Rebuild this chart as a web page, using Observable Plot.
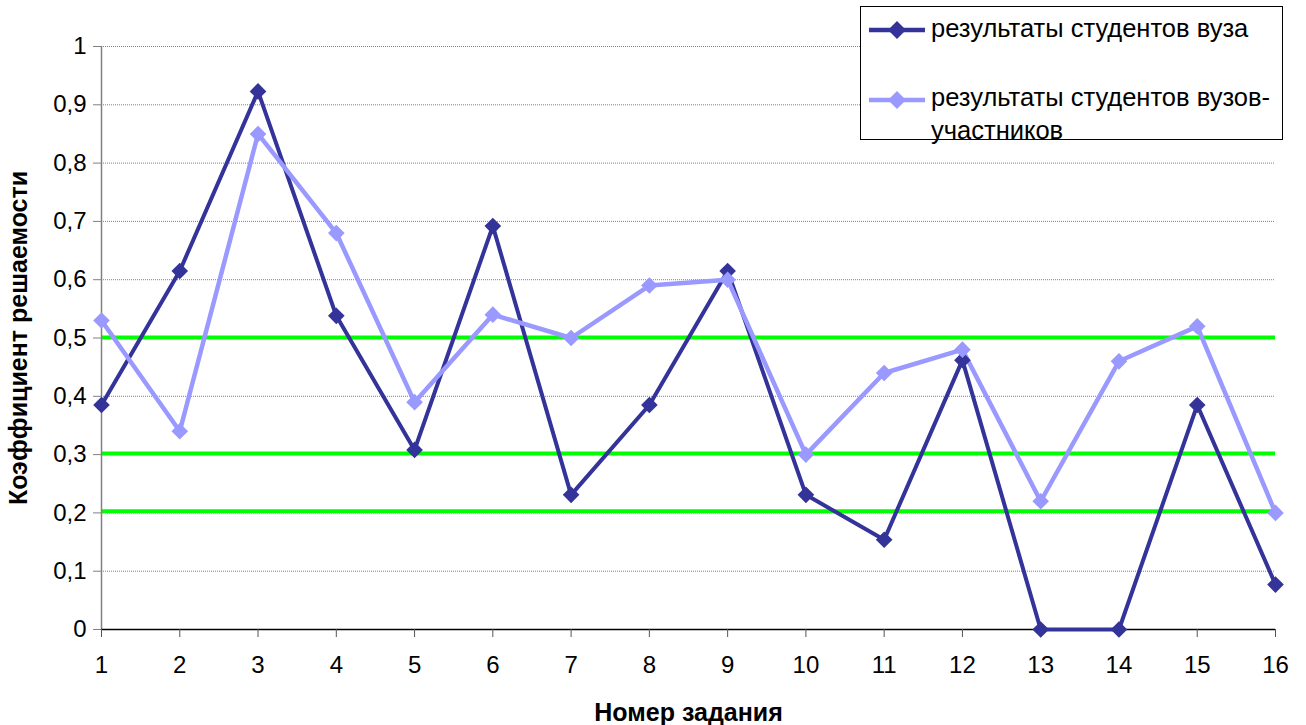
<!DOCTYPE html>
<html><head><meta charset="utf-8">
<script src="https://cdn.jsdelivr.net/npm/d3@7"></script>
<script src="https://cdn.jsdelivr.net/npm/@observablehq/plot@0.6"></script>
<style>
body{margin:0;background:#fff;font-family:"Liberation Sans",Arial,sans-serif;}
#wrap{position:relative;width:1306px;height:725px;overflow:hidden;}
#legend{position:absolute;left:860px;top:6px;width:421px;height:132px;border:1px solid #000;background:#fff;font-size:25.5px;color:#000;}
.lbl{position:absolute;left:70px;line-height:33px;white-space:nowrap;}
.sw{position:absolute;left:8px;}
</style></head>
<body><div id="wrap"></div>
<script>
const tasks = [1,2,3,4,5,6,7,8,9,10,11,12,13,14,15,16];
const uni = [0.385,0.615,0.923,0.538,0.308,0.692,0.231,0.385,0.615,0.231,0.154,0.462,0,0,0.385,0.077];
const participants = [0.53,0.34,0.85,0.68,0.39,0.54,0.50,0.59,0.60,0.30,0.44,0.48,0.22,0.46,0.52,0.20];
const yTicks = [0,0.1,0.2,0.3,0.4,0.5,0.6,0.7,0.8,0.9,1];
const greenLevels = [0.501,0.302,0.203];
const seriesNames = ["результаты студентов вуза","результаты студентов вузов-участников"];
const seriesColors = ["#333399","#9999FF"];
const xTitle = "Номер задания";
const yTitle = "Коэффициент решаемости";

const d1 = tasks.map((t,i)=>({t, v: uni[i]}));
const d2 = tasks.map((t,i)=>({t, v: participants[i]}));
const fmt = d => String(d).replace(".", ",");

const chart = Plot.plot({
  width: 1306, height: 725,
  marginLeft: 101, marginRight: 31, marginTop: 46, marginBottom: 96,
  style: {fontFamily: '"Liberation Sans", Arial, sans-serif', fontSize: "24px", color: "#000", background: "#fff"},
  x: {type: "linear", domain: [1,16]},
  y: {domain: [0,1]},
  marks: [
    Plot.ruleY(yTicks.filter(d=>d>0), {stroke: "#808080", strokeWidth: 1, strokeDasharray: "1,1"}),
    Plot.ruleY(greenLevels, {stroke: "#00FF00", strokeWidth: 4}),
    Plot.ruleX([1], {stroke: "#808080", strokeWidth: 1.5}),
    Plot.ruleY([0], {stroke: "#000", strokeWidth: 1.5}),
    Plot.axisY({ticks: yTicks, tickFormat: () => "", tickSize: 8, label: null, stroke: "#808080"}),
    Plot.axisX({ticks: tasks, tickFormat: () => "", tickSize: 8, label: null, stroke: "#555"}),
    Plot.text(yTicks, {x: () => 1, y: d => d, text: fmt, textAnchor: "end", lineAnchor: "middle", dx: -15, fontSize: 24, fill: "#000"}),
    Plot.text(tasks, {x: d => d, y: () => 0, text: d => String(d), textAnchor: "middle", lineAnchor: "middle", dy: 36, fontSize: 24, fill: "#000"}),
    Plot.line(d1, {x: "t", y: "v", stroke: seriesColors[0], strokeWidth: 4}),
    Plot.line(d2, {x: "t", y: "v", stroke: seriesColors[1], strokeWidth: 4.5}),
    Plot.dot(d1, {x: "t", y: "v", fill: seriesColors[0], symbol: "diamond2", r: 7.5}),
    Plot.dot(d2, {x: "t", y: "v", fill: seriesColors[1], symbol: "diamond2", r: 7.5}),
    Plot.text([yTitle], {text: d=>d, frameAnchor: "left", dx: -83, rotate: -90, textAnchor: "middle", lineAnchor: "middle", fontWeight: "bold", fontSize: 25, fill: "#000"}),
    Plot.text([xTitle], {text: d=>d, frameAnchor: "bottom", dy: 83, textAnchor: "middle", lineAnchor: "middle", fontWeight: "bold", fontSize: 25, fill: "#000"})
  ]
});
const wrap = document.getElementById("wrap");
wrap.appendChild(chart);

function swatch(color){
  return `<svg width="56" height="22" viewBox="0 0 56 22"><line x1="0" y1="11" x2="56" y2="11" stroke="${color}" stroke-width="4.5"/><path d="M28 2 L37 11 L28 20 L19 11 Z" fill="${color}"/></svg>`;
}
const leg = document.createElement("div");
leg.id = "legend";
leg.innerHTML =
  `<div class="sw" style="top:11px">${swatch(seriesColors[0])}</div>` +
  `<div class="lbl" style="top:5px">${seriesNames[0]}</div>` +
  `<div class="sw" style="top:81px">${swatch(seriesColors[1])}</div>` +
  `<div class="lbl" style="top:74px;white-space:normal;width:345px">${seriesNames[1]}</div>`;
wrap.appendChild(leg);
</script></body></html>
